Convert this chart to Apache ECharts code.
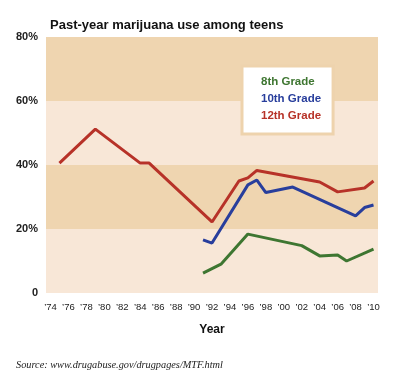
<!DOCTYPE html>
<html><head><meta charset="utf-8">
<script src="https://cdn.jsdelivr.net/npm/echarts@6/dist/echarts.min.js"></script>
<style>html,body{margin:0;padding:0;background:#fff}#c{width:400px;height:383px}</style>
</head><body><div id="c"></div>
<script>
const tickYears = [1974,1976,1978,1980,1982,1984,1986,1988,1990,1992,1994,1996,1998,2000,2002,2004,2006,2008,2010];
const grade8Years  = [1991,1993,1996,2002,2004,2006,2007,2010];
const grade8Values = [6.2,9.0,18.4,14.8,11.6,11.9,10.0,13.7];
const grade10Years  = [1991,1992,1996,1997,1998,2001,2008,2009,2010];
const grade10Values = [16.6,15.6,33.8,35.3,31.4,33.1,24.1,26.7,27.5];
const grade12Years  = [1975,1979,1984,1985,1992,1995,1996,1997,2004,2006,2009,2010];
const grade12Values = [40.6,51.2,40.6,40.6,22.2,35.0,36.0,38.3,34.7,31.6,32.8,35.0];
const seriesNames = ['8th Grade','10th Grade','12th Grade'];
const seriesColors = ['#3e7631','#283e9c','#b73228'];

const pairs = (xs, ys) => xs.map((x, i) => [x, ys[i]]);
const chart = echarts.init(document.getElementById('c'));
chart.setOption({
  animation: false,
  title: [
    {text: 'Past-year marijuana use among teens', left: 45, top: 14,
     textStyle: {fontFamily: 'Liberation Sans, Arial', fontWeight: 'bold', fontSize: 13, color: '#111'}},
    {text: 'Source: www.drugabuse.gov/drugpages/MTF.html', left: 11, top: 355,
     textStyle: {fontFamily: 'Liberation Serif, serif', fontStyle: 'italic', fontWeight: 'normal', fontSize: 10.3, color: '#222'}}
  ],
  grid: {left: 46, right: 22, top: 37, bottom: 90},
  legend: {
    orient: 'vertical', left: 242, top: 66, width: 89,
    backgroundColor: '#fff', borderColor: '#eed3ad', borderWidth: 3,
    padding: [10, 12, 12, 14], itemGap: 5, itemWidth: 0, itemHeight: 0,
    icon: 'none', selectedMode: false,
    data: seriesNames.map((n, i) => ({name: n, textStyle: {color: seriesColors[i], fontWeight: 'bold', fontSize: 11.5, fontFamily: 'Liberation Sans, Arial'}}))
  },
  xAxis: {
    type: 'value', min: 1973.5, max: 2010.5,
    name: 'Year', nameLocation: 'middle', nameGap: 31,
    nameTextStyle: {fontFamily: 'Liberation Sans, Arial', fontWeight: 'bold', fontSize: 12, color: '#111'},
    axisLine: {show: false}, axisTick: {show: false}, splitLine: {show: false},
    axisLabel: {customValues: tickYears, formatter: v => '\u2019' + String(v).slice(2),
      fontFamily: 'Liberation Sans, Arial', fontSize: 9.5, color: '#222', margin: 9}
  },
  yAxis: {
    type: 'value', min: 0, max: 80, interval: 20,
    axisLine: {show: false}, axisTick: {show: false}, splitLine: {show: false},
    splitArea: {show: true, areaStyle: {color: ['#f8e7d7', '#efd5b0']}},
    axisLabel: {formatter: v => v === 0 ? '0' : v + '%', fontFamily: 'Liberation Sans, Arial',
      fontWeight: 'bold', fontSize: 11, color: '#222', margin: 8}
  },
  series: [
    {name: seriesNames[0], type: 'line', data: pairs(grade8Years, grade8Values)},
    {name: seriesNames[1], type: 'line', data: pairs(grade10Years, grade10Values)},
    {name: seriesNames[2], type: 'line', data: pairs(grade12Years, grade12Values)}
  ].map((s, i) => Object.assign(s, {symbol: 'none', color: seriesColors[i], lineStyle: {width: 3, color: seriesColors[i]}}))
});
</script></body></html>
